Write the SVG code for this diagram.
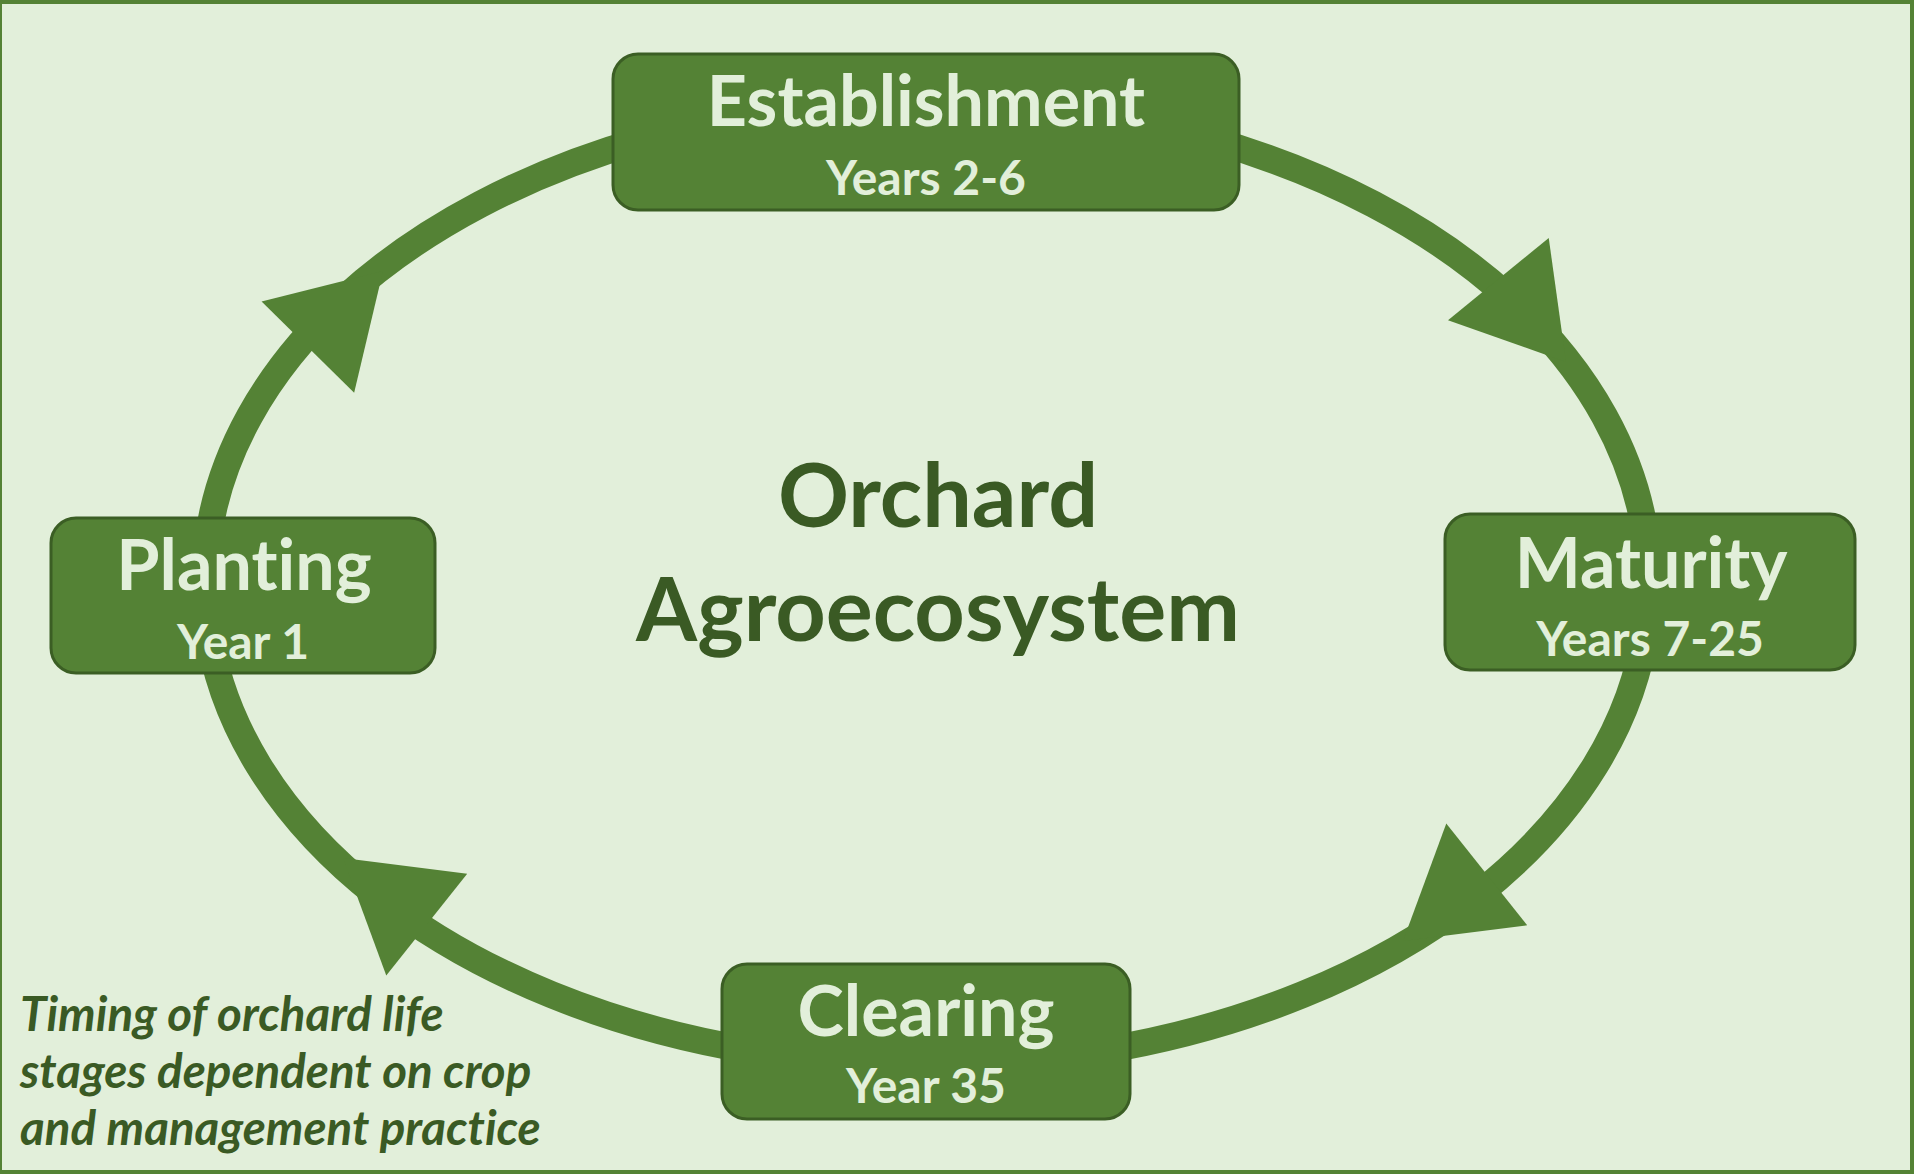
<svg xmlns="http://www.w3.org/2000/svg" xmlns:xlink="http://www.w3.org/1999/xlink" width="1916" height="1176" viewBox="0 0 1916 1176">
<style>
text{font-variant-ligatures:none;font-feature-settings:"liga" 0}
.arc{fill:none;stroke:#548235;stroke-width:27}
.head{fill:#548235}
.box{fill:#548235;stroke:#3B5E24;stroke-width:3}
.t1{font-family:Lato,"Open Sans",sans-serif;font-weight:700;font-size:70px;fill:#E2EFDA;text-anchor:middle}
.t2{font-family:Lato,"Open Sans",sans-serif;font-weight:700;font-size:48px;fill:#E2EFDA;text-anchor:middle}
.ctr{font-family:Lato,"Open Sans",sans-serif;font-weight:700;font-size:88px;fill:#3A5A24;text-anchor:middle}
.note{font-family:Lato,"Open Sans",sans-serif;font-weight:700;font-style:italic;font-size:47.5px;fill:#3A5A24}
</style>
<defs>
<path id="ah" d="M0,0 L-107,-65 L-107,65 Z"/>
</defs>
<rect x="0" y="2" width="1912" height="1170" fill="#E2EFDA" stroke="#548235" stroke-width="4"/>
<g id="connectors">
<path class="arc" d="M207.7,541 A722,482 0 0 1 645,139.3"/>
<path class="arc" d="M1209,139.3 A722,482 0 0 1 1646.3,541"/>
<path class="arc" d="M1646.3,625 A722,482 0 0 1 1101.7,1050.7"/>
<path class="arc" d="M752.3,1050.7 A722,482 0 0 1 207.7,625"/>
<use xlink:href="#ah" class="head" transform="translate(383,271) rotate(-45.4)"/>
<use xlink:href="#ah" class="head" transform="translate(1566,362) rotate(50.8)"/>
<use xlink:href="#ah" class="head" transform="translate(1403,941) rotate(141.5)"/>
<use xlink:href="#ah" class="head" transform="translate(343,858) rotate(-141.5)"/>
</g>
<g id="establishment">
<rect class="box" x="613" y="54" width="626" height="156" rx="25"/>
<text class="t1" x="926" y="126">Establishment</text>
<text class="t2" x="926" y="195">Years 2-6</text>
</g>
<g id="maturity">
<rect class="box" x="1445" y="514" width="410" height="156" rx="25"/>
<text class="t1" x="1651" y="588">Maturity</text>
<text class="t2" x="1650" y="656">Years 7-25</text>
</g>
<g id="clearing">
<rect class="box" x="722" y="964" width="408" height="155" rx="25"/>
<text class="t1" x="926" y="1036">Clearing</text>
<text class="t2" x="926" y="1103">Year 35</text>
</g>
<g id="planting">
<rect class="box" x="51" y="518" width="384" height="155" rx="25"/>
<text class="t1" x="244" y="590">Planting</text>
<text class="t2" x="243" y="659">Year 1</text>
</g>
<g id="center">
<text class="ctr" x="938" y="527">Orchard</text>
<text class="ctr" x="938" y="641">Agroecosystem</text>
</g>
<g id="note">
<text class="note" x="20" y="1031">Timing of orchard life</text>
<text class="note" x="20" y="1088">stages dependent on crop</text>
<text class="note" x="20" y="1145">and management practice</text>
</g>
</svg>
